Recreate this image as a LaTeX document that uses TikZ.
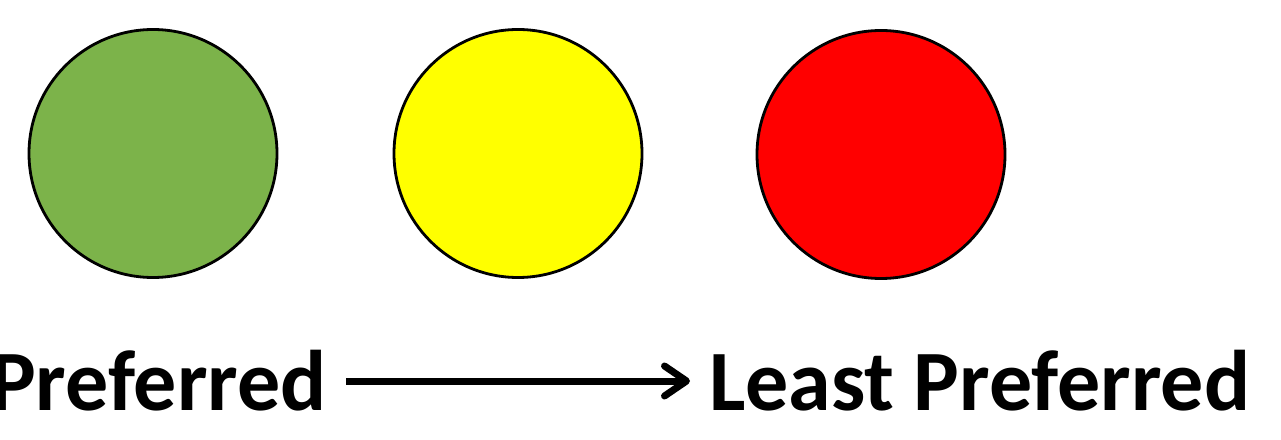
\documentclass[tikz,border=0pt]{standalone}
\usepackage{fontspec}
\setmainfont{Carlito}
\usetikzlibrary{arrows.meta}
\definecolor{goodgreen}{RGB}{124,179,74}
\definecolor{cautionyellow}{RGB}{255,255,0}
\tikzset{light/.style = {shape = circle, draw = black, line width = 2.8pt, minimum size = 248pt, inner sep = 0pt}}
\tikzset{label/.style = {anchor = base west, inner sep = 0pt, font = \fontsize{86}{100}\selectfont\bfseries}}
\tikzset{flow/.style = {line width = 7pt, -{Straight Barb[round, length = 22pt, width = 30pt, line width = 7pt]}}}

\begin{document}
\begin{tikzpicture}[x = 1pt, y = 1pt]
	\useasboundingbox (0, 0) rectangle (1281, 439);
	\node[light, fill = goodgreen] (green) at (153, 285.5) {};
	\node[light, fill = cautionyellow] (yellow) at (518, 285.5) {};
	\node[light, fill = red] (red) at (881, 284.5) {};

	\node[label] (most) at (-10, 29) {Preferred};
	\node[label] (least) at (709, 29) {Least Preferred};

	\coordinate (from) at (346, 58);
	\coordinate (to) at (690, 58);
	\draw[flow] (from) -- (to);
\end{tikzpicture}
\end{document}
